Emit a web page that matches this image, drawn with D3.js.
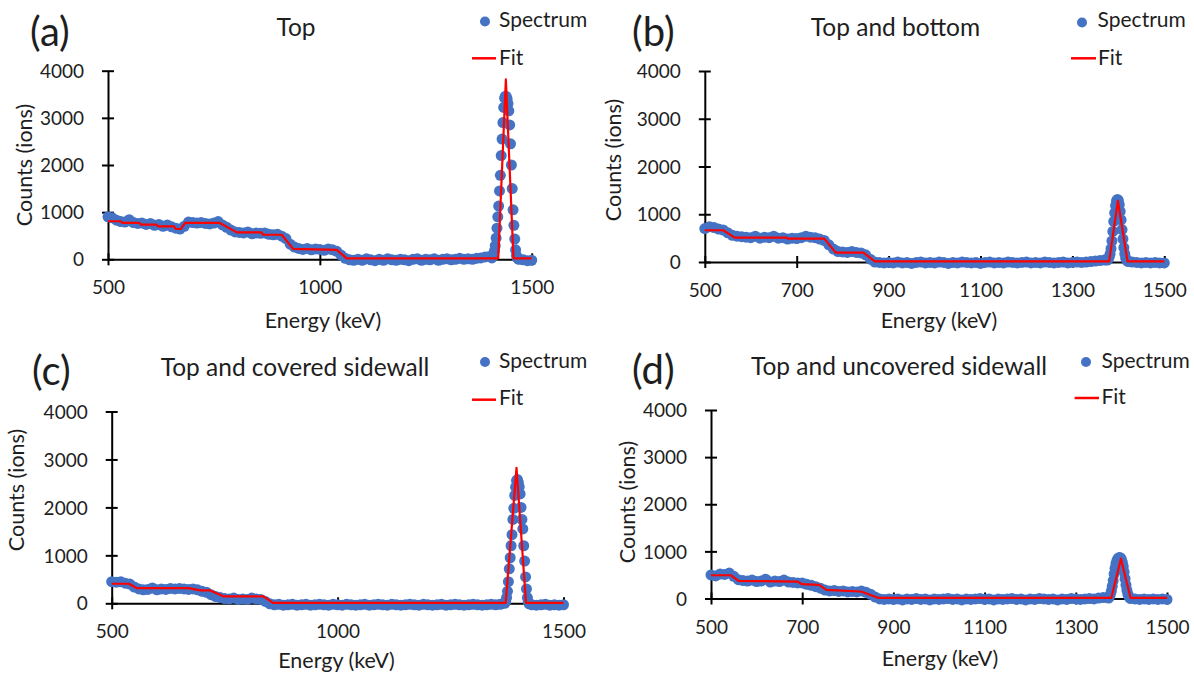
<!DOCTYPE html>
<html><head><meta charset="utf-8">
<script src="https://cdn.jsdelivr.net/npm/d3@7"></script>
<style>
body{margin:0;background:#fff;}
svg{display:block;font-family:Lato,'Open Sans',sans-serif;}
</style></head><body>
<svg id="chart" width="1194" height="676"></svg>
<script>
// ---------------- DATA ----------------
const panelLetters = ["(a)", "(b)", "(c)", "(d)"];
const panelTitles = ["Top", "Top and bottom", "Top and covered sidewall", "Top and uncovered sidewall"];
const seriesNames = ["Spectrum", "Fit"];
const xTicksWide = [500, 1000, 1500];
const xTicksNarrow = [500, 700, 900, 1100, 1300, 1500];
const yTicks = [0, 1000, 2000, 3000, 4000];
const xTitle = "Energy (keV)";
const yTitle = "Counts (ions)";

// background channels every 10 keV, 500..1500
const bgEnergy = d3.range(500, 1501, 10);

// (a) Top
const aBackground = [
 900,880,830,800,790,840,780,760,770,740,
 760,720,740,700,730,690,660,640,700,790,
 780,770,780,760,750,770,800,730,680,620,
 580,570,560,580,540,560,550,560,530,520,
 530,490,440,320,260,230,210,230,200,220,
 210,190,220,200,170,90,20,-10,-20,0,
 -20,10,-10,-30,0,-20,10,-10,-20,0,
 -10,-30,0,10,-20,0,-10,10,-20,0,
 10,-10,0,20,0,10,0,20,30,50,
 60,0,0,0,0,0,0,0,-10,-30,
 -20,-30
];
const aPeakEnergy = d3.range(1406, 1469, 2);
const aPeakCounts = [
 30,60,110,180,290,450,660,900,1130,1450,
 1780,2200,2550,2900,3220,3420,3460,3450,3400,3300,
 3150,2850,2450,2000,1500,1050,720,430,200,80,
 30,10
];
const aFitEnergy = [500,530,534,574,578,614,618,656,660,672,682,764,804,862,866,910,937,1040,1063,1421,1439,1457,1500];
const aFitCounts = [807,807,771,771,736,736,700,700,643,643,771,771,571,571,521,521,221,200,21,21,3815,21,21];

// (b) Top and bottom
const bBackground = [
 700,740,720,690,670,610,560,540,530,520,
 510,540,500,520,510,540,500,510,480,500,
 490,510,540,520,510,480,450,360,270,220,
 210,200,220,200,190,150,60,0,-10,-20,
 -10,-20,0,-20,-10,-30,-10,0,-20,-10,
 -20,0,-10,-30,-10,-20,0,-10,-20,-10,
 -30,-10,0,-20,-10,-20,0,-10,-20,-10,
 0,-20,-10,-20,0,-10,-20,-10,0,-20,
 -10,0,-10,0,10,20,30,40,0,0,
 0,0,0,0,-10,-20,-10,-20,-10,-20,
 -20
];
const bPeakEnergy = d3.range(1376, 1423, 2);
const bPeakCounts = [
 40,60,100,170,280,440,640,850,1030,1180,
 1280,1310,1290,1200,1060,880,680,480,300,170,
 80,40,20,10
];
const bFitEnergy = [500,540,565,678,680,760,785,845,870,1380,1399,1420,1500];
const bFitCounts = [665,665,511,511,490,490,196,196,14,14,1282,14,14];

// (c) Top and covered sidewall
const cBackground = [
 450,440,450,420,400,340,300,280,290,320,
 280,300,290,310,300,310,300,290,300,280,
 250,230,180,140,120,100,90,110,80,90,
 80,110,90,80,40,-10,-30,-20,-40,-30,
 -20,-40,-30,-20,-40,-30,-20,-30,-40,-20,
 -30,-40,-20,-30,-40,-30,-20,-40,-30,-20,
 -30,-40,-20,-30,-40,-30,-20,-30,-40,-20,
 -30,-40,-30,-20,-40,-30,-20,-30,-40,-30,
 -20,-30,-40,-30,-20,-30,-20,-10,0,0,
 0,0,0,-30,-40,-30,-20,-40,-30,-40,
 -30
];
const cPeakEnergy = d3.range(1370, 1425, 2);
const cPeakCounts = [
 0,40,120,250,450,720,950,1200,1430,1750,
 1980,2250,2420,2560,2580,2520,2430,2280,2000,1750,
 1550,1200,880,550,300,120,30,-10
];
const cFitEnergy = [500,538,555,670,696,717,747,836,857,1372,1396,1417,1500];
const cFitCounts = [408,408,318,318,270,270,145,145,7,7,2823,7,7];

// (d) Top and uncovered sidewall
const dBackground = [
 500,480,520,510,540,470,400,380,370,390,
 360,370,410,350,370,360,390,350,340,330,
 330,300,280,250,220,180,160,170,150,160,
 140,150,140,160,130,90,30,-10,-20,-10,
 -20,-10,-30,-10,-20,0,-20,-10,-30,-10,
 -20,-10,0,-20,-10,-30,-10,-20,-10,0,
 -20,-10,-30,-10,-20,-10,0,-20,-10,-30,
 -10,-20,0,-10,-20,-10,-30,-10,-20,0,
 -10,-20,-10,0,-10,10,20,20,0,0,
 0,0,0,-10,-20,-10,-20,-10,-20,-10,
 -20
];
const dPeakEnergy = d3.range(1372, 1421, 2);
const dPeakCounts = [
 10,40,90,160,260,380,520,640,740,800,
 840,860,870,860,830,770,680,560,420,290,
 180,100,50,20,0
];
const dFitEnergy = [500,544,560,690,700,737,753,829,866,1378,1399,1420,1500];
const dFitCounts = [493,493,373,359,303,289,183,148,14,14,845,14,14];

// ---------------- LAYOUT (positions / styles) ----------------
const layout = [
 {x0:108, x1:531.7, y0:259.3, yTop:70.7, xTicks:xTicksWide,
  bg:aBackground, pkE:aPeakEnergy, pkC:aPeakCounts, fE:aFitEnergy, fC:aFitCounts,
  letter:[30,46], title:[296,36], dot:[485,21.5], specText:[499,27], fitLine:[472,496,58.3], fitText:[499,64.5],
  yTitle:[24,165], xTitle:[323,328]},
 {x0:704.8, x1:1164.3, y0:262, yTop:71, xTicks:xTicksNarrow,
  bg:bBackground, pkE:bPeakEnergy, pkC:bPeakCounts, fE:bFitEnergy, fC:bFitCounts,
  letter:[632,46], title:[895.5,36], dot:[1082,22.5], specText:[1097.6,27], fitLine:[1071,1096,58.3], fitText:[1098,64.5],
  yTitle:[613,160], xTitle:[939,328]},
 {x0:111.7, x1:563.5, y0:603.3, yTop:411.5, xTicks:xTicksWide,
  bg:cBackground, pkE:cPeakEnergy, pkC:cPeakCounts, fE:cFitEnergy, fC:cFitCounts,
  letter:[32,385], title:[295,376.3], dot:[485,362], specText:[499,367.5], fitLine:[472,496,399.7], fitText:[499,405],
  yTitle:[16.3,490], xTitle:[336.5,668]},
 {x0:711, x1:1167, y0:598.5, yTop:410, xTicks:xTicksNarrow,
  bg:dBackground, pkE:dPeakEnergy, pkC:dPeakCounts, fE:dFitEnergy, fC:dFitCounts,
  letter:[632,384], title:[899,375.3], dot:[1086,362], specText:[1101.5,367.5], fitLine:[1074.6,1099,398], fitText:[1101.5,404],
  yTitle:[627,502], xTitle:[940,666.3]}
];

const blue = "#4472C4", red = "#FF0000", ink = "#1e1e1e";
const fs = {tick:19, axisTitle:21.5, title:24.5, legend:21, letter:40};

const svg = d3.select("#chart");

layout.forEach((p, i) => {
  const g = svg.append("g");
  const x = d3.scaleLinear().domain([500, 1500]).range([p.x0, p.x1]);
  const y = d3.scaleLinear().domain([0, 4000]).range([p.y0, p.yTop]);

  // spectrum points: background channels outside peak window + peak channels
  const pk0 = d3.min(p.pkE), pk1 = d3.max(p.pkE);
  const spec = [];
  bgEnergy.forEach((e, k) => { if (e < pk0 || e > pk1) spec.push([e, p.bg[k]]); });
  p.pkE.forEach((e, k) => spec.push([e, p.pkC[k]]));
  spec.sort((a, b) => a[0] - b[0]);

  // axes
  const xa = g.append("g").attr("transform", `translate(0,${p.y0})`)
    .call(d3.axisBottom(x).tickValues(p.xTicks).tickFormat(d3.format("d")).tickSizeInner(6).tickSizeOuter(0));
  xa.selectAll(".tick line").attr("y1", -6).attr("y2", 6).attr("stroke", "#000").attr("stroke-width", 2);
  xa.select(".domain").attr("stroke", "#000").attr("stroke-width", 2);
  xa.selectAll(".tick text").attr("y", 35).attr("dy", null).attr("font-size", fs.tick).attr("fill", ink)
    .attr("font-family", "Lato");

  const ya = g.append("g").attr("transform", `translate(${p.x0},0)`)
    .call(d3.axisLeft(y).tickValues(yTicks).tickFormat(d3.format("d")).tickSizeInner(6).tickSizeOuter(0));
  ya.selectAll(".tick line").attr("x1", -6).attr("x2", 6).attr("stroke", "#000").attr("stroke-width", 2);
  ya.select(".domain").attr("stroke", "#000").attr("stroke-width", 2);
  ya.selectAll(".tick text").attr("x", -24).attr("dy", "0.35em").attr("font-size", fs.tick).attr("fill", ink)
    .attr("font-family", "Lato");

  // spectrum dots
  g.append("g").selectAll("circle").data(spec).join("circle")
    .attr("cx", d => x(d[0])).attr("cy", d => y(d[1])).attr("r", 5.5).attr("fill", blue);

  // fit line
  const fit = p.fE.map((e, k) => [e, p.fC[k]]);
  g.append("path").datum(fit)
    .attr("d", d3.line().x(d => x(d[0])).y(d => y(d[1])))
    .attr("fill", "none").attr("stroke", red).attr("stroke-width", 2.2).attr("stroke-linejoin", "round");

  // texts
  g.append("text").attr("x", p.letter[0]).attr("y", p.letter[1]).attr("font-size", fs.letter).attr("fill", ink).text(panelLetters[i]);
  g.append("text").attr("x", p.title[0]).attr("y", p.title[1]).attr("text-anchor", "middle").attr("font-size", fs.title).attr("fill", ink).text(panelTitles[i]);
  g.append("circle").attr("cx", p.dot[0]).attr("cy", p.dot[1]).attr("r", 5).attr("fill", blue);
  g.append("text").attr("x", p.specText[0]).attr("y", p.specText[1]).attr("font-size", fs.legend).attr("fill", ink).text(seriesNames[0]);
  g.append("line").attr("x1", p.fitLine[0]).attr("x2", p.fitLine[1]).attr("y1", p.fitLine[2]).attr("y2", p.fitLine[2]).attr("stroke", red).attr("stroke-width", 2.5);
  g.append("text").attr("x", p.fitText[0]).attr("y", p.fitText[1]).attr("font-size", fs.legend).attr("fill", ink).text(seriesNames[1]);
  g.append("text").attr("transform", `translate(${p.yTitle[0]},${p.yTitle[1]}) rotate(-90)`).attr("text-anchor", "middle")
    .attr("dy", "0.35em").attr("font-size", fs.axisTitle).attr("fill", ink).text(yTitle);
  g.append("text").attr("x", p.xTitle[0]).attr("y", p.xTitle[1]).attr("text-anchor", "middle").attr("font-size", fs.axisTitle).attr("fill", ink).text(xTitle);
});
</script></body></html>
